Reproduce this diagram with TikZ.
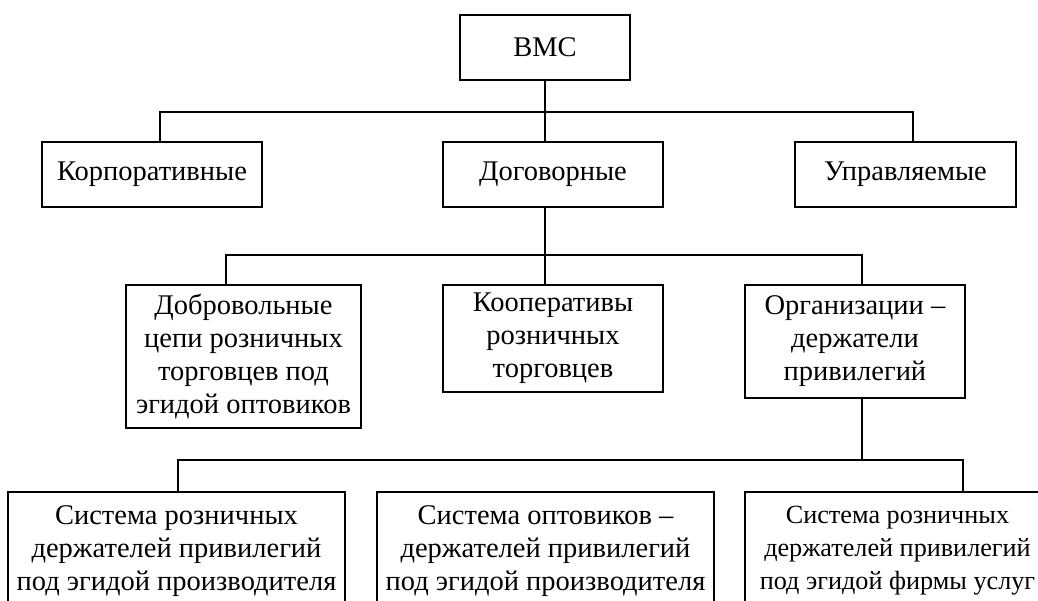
\documentclass[tikz,border=0pt]{standalone}
\usepackage{fontspec}
\setmainfont{Liberation Serif}
\usepackage{tikz}
\usetikzlibrary{positioning}

\begin{document}
\begin{tikzpicture}[
            x = 1pt, y = -1pt, % pixel-like units, y down
            line width = 1.6pt, % line style
            font = \fontsize{28.5}{33}\selectfont
        ]

        \tikzstyle{box}=[
            draw,
            fill = white,
            align = center,
            inner sep = 2pt,
            line width = 1.6pt
        ]

        \useasboundingbox (0,0) rectangle (1038,601);
        \clip (0,0) rectangle (1038,601);

	% top level
        \node[box, minimum width=170pt, minimum height=65pt] (vmc) at (545,47.5) {ВМС};

	% kinds of systems
        \node[box, minimum width=220pt, minimum height=65pt] (korp) at (152,174.5) {Корпоративные};
        \node[box, minimum width=220pt, minimum height=65pt] (dog) at (553,174.5) {Договорные};
        \node[box, minimum width=221pt, minimum height=65pt] (upr) at (905.5,174.5) {Управляемые};

        \draw (vmc.south) -- ++(0,31) -| ([xshift=8pt]korp.north);
        \draw (vmc.south) -- ++(0,31) -| ([xshift=7.5pt]upr.north);
        \draw (vmc.south) -- ([xshift=-8pt]dog.north);

	% contractual systems
        \node[box, minimum width=235pt, minimum height=143pt] (dobr) at (243.5,356.5) {Добровольные\\цепи розничных\\торговцев под\\эгидой оптовиков};
        \node[box, minimum width=220pt, minimum height=107pt] (koop) at (553,338.5) {Кооперативы\\розничных\\торговцев};
        \node[box, minimum width=220pt, minimum height=113pt] (org) at (855,341.5) {Организации –\\держатели\\привилегий};

        \draw ([xshift=-8pt]dog.south) -- ++(0,47) -| ([xshift=-17.5pt]dobr.north);
        \draw ([xshift=-8pt]dog.south) -- ++(0,47) -| ([xshift=7pt]org.north);
        \draw ([xshift=-8pt]dog.south) -- ([xshift=-8pt]koop.north);

	% franchise holders
        \node[box, minimum width=337pt, minimum height=118pt] (sys1) at (176.5,551) {Система розничных\\держателей привилегий\\под эгидой производителя};
        \node[box, minimum width=337pt, minimum height=118pt] (sys2) at (545.5,551) {Система оптовиков –\\держателей привилегий\\под эгидой производителя};
        \node[box, minimum width=305pt, minimum height=118pt, font=\fontsize{26.2}{33}\selectfont] (sys3) at (897.5,551) {Система розничных\\держателей привилегий\\под эгидой фирмы услуг};

        \draw ([xshift=7pt]org.south) -- ++(0,61) -| ([xshift=1.5pt]sys1.north);
        \draw ([xshift=7pt]org.south) -- ++(0,61) -| ([xshift=65.5pt]sys3.north);

  \end{tikzpicture}
\end{document}
